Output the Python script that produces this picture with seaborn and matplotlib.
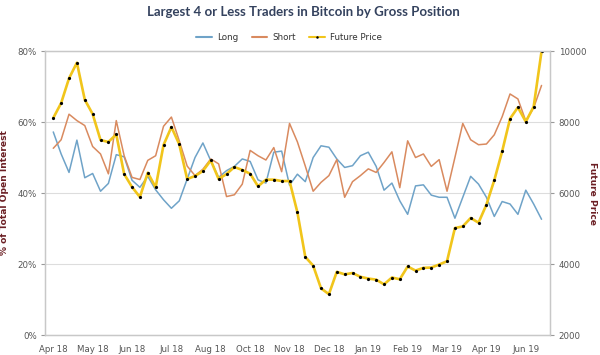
import numpy as np
import pandas as pd
import matplotlib
matplotlib.use("Agg")
import matplotlib.pyplot as plt
import seaborn as sns
from matplotlib.lines import Line2D

# weekly values (63 weeks, Apr 18 - Jun 19)
long_pct = [57.2, 51.0, 45.8, 54.9, 44.3, 45.5, 40.5, 42.7, 50.8, 50.2,
            43.6, 41.6, 44.7, 40.9, 38.1, 35.7, 37.8, 43.9, 50.0, 54.1,
            49.1, 44.4, 46.3, 47.5, 49.6, 48.9, 43.7, 42.8, 51.5, 51.8,
            42.2, 45.3, 43.2, 50.0, 53.3, 52.9, 49.6, 47.2, 47.7, 50.5,
            51.5, 47.5, 40.8, 42.8, 37.8, 34.0, 42.0, 42.3, 39.4, 38.8,
            38.8, 32.9, 38.8, 44.7, 42.5, 38.8, 33.4, 37.6, 36.9, 34.0,
            40.8, 36.9, 32.6]
short_pct = [52.6, 55.0, 62.2, 60.4, 59.0, 53.1, 51.0, 45.4, 60.4, 50.5,
             44.4, 43.8, 49.2, 50.5, 58.8, 61.4, 54.7, 47.6, 44.9, 46.7,
             49.6, 48.2, 39.0, 39.5, 42.5, 52.0, 50.5, 49.3, 52.8, 46.0,
             59.6, 54.4, 47.6, 40.5, 43.0, 44.9, 49.4, 38.8, 43.2, 44.9,
             46.8, 45.8, 48.6, 51.6, 41.5, 54.7, 50.0, 51.0, 47.5, 49.4,
             40.5, 50.0, 59.6, 55.0, 53.6, 53.8, 56.4, 61.5, 67.9, 66.5,
             60.3, 64.0, 70.3]
future_price = [8113, 8535, 9230, 9671, 8629, 8225, 7493, 7437, 7653, 6535,
                6169, 5887, 6573, 6160, 7352, 7859, 7371, 6394, 6479, 6620,
                6920, 6394, 6535, 6732, 6648, 6545, 6188, 6376, 6376, 6338,
                6338, 5455, 4200, 3955, 3314, 3150, 3780, 3709, 3746, 3640,
                3590, 3560, 3427, 3620, 3570, 3930, 3815, 3892, 3900, 3985,
                4080, 5013, 5060, 5296, 5165, 5670, 6360, 7174, 8094, 8413,
                8009, 8432, 9990]
tick_labels = ["Apr 18", "May 18", "Jun 18", "Jul 18", "Aug 18", "Oct 18",
               "Nov 18", "Dec 18", "Jan 19", "Feb 19", "Mar 19", "Apr 19",
               "Jun 19"]

c_long = "#6fa3c8"
c_short = "#d98a5f"
c_price = "#f1c51b"
c_label = "#6b1f24"
c_tick = "#555555"

df = pd.DataFrame({"week": np.arange(len(long_pct)),
                   "Long": long_pct, "Short": short_pct,
                   "Future Price": future_price})

sns.set_style("white")
plt.rcParams["font.family"] = ["DejaVu Sans"]

fig = plt.figure(figsize=(6, 3.55), dpi=100)
ax = fig.add_axes([0.075, 0.0563, 0.842, 0.8])
ax2 = ax.twinx()

sns.lineplot(data=df, x="week", y="Long", ax=ax, color=c_long, linewidth=1.1)
sns.lineplot(data=df, x="week", y="Short", ax=ax, color=c_short, linewidth=1.1)
sns.lineplot(data=df, x="week", y="Future Price", ax=ax2, color=c_price,
             linewidth=1.9, marker="o", markersize=2.3, markeredgewidth=0,
             markerfacecolor="black")

ax.set_xlim(-1.05, 63.1)
ax.set_ylim(0, 80)
ax2.set_ylim(2000, 10000)

ax.set_yticks([0, 20, 40, 60, 80])
ax.set_yticklabels(["0%", "20%", "40%", "60%", "80%"])
ax2.set_yticks([2000, 4000, 6000, 8000, 10000])
ax.set_xticks(np.arange(0, len(long_pct), 5))
ax.set_xticklabels(tick_labels)

for a in (ax, ax2):
    a.tick_params(axis="both", labelsize=6.2, colors="#999999",
                  labelcolor=c_tick, length=3, width=0.8, pad=3)
    for s in a.spines.values():
        s.set_color("#c8c8c8")
        s.set_linewidth(0.9)
ax.tick_params(axis="x", pad=4)
ax.grid(axis="y", color="#dddddd", linewidth=0.8)
ax.set_axisbelow(True)

ax.set_xlabel("")
ax.set_ylabel("% of Total Open Interest", color=c_label, fontsize=6.6,
              fontweight="bold")
ax.yaxis.set_label_coords(-0.072, 0.5)
ax2.set_ylabel("Future Price", color=c_label, fontsize=6.6,
               fontweight="bold", rotation=270, va="center")
ax2.yaxis.set_label_coords(1.083, 0.5)

fig.suptitle("Largest 4 or Less Traders in Bitcoin by Gross Position",
             x=0.505, y=0.983, fontsize=9.5, fontweight="bold",
             color="#34425e", family=["Lato", "DejaVu Sans"])

handles = [Line2D([0], [0], color=c_long, lw=1.5),
           Line2D([0], [0], color=c_short, lw=1.5),
           Line2D([0], [0], color=c_price, lw=1.5, marker="o",
                  markersize=1.8, markeredgewidth=0,
                  markerfacecolor="black")]
fig.legend(handles, ["Long", "Short", "Future Price"], loc="center",
           bbox_to_anchor=(0.482, 0.893), ncol=3, frameon=False,
           fontsize=6.3, handlelength=1.8, columnspacing=1.5,
           handletextpad=0.6, labelcolor="#333333")

fig.savefig("out.png", dpi=100)
